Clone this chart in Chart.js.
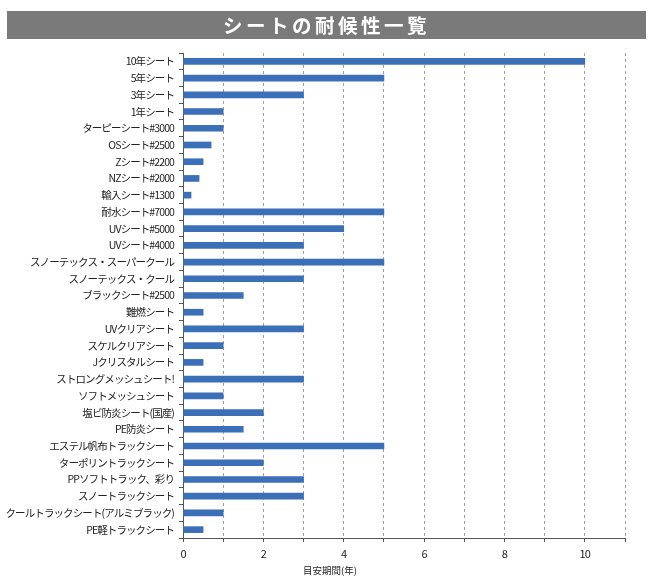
<!DOCTYPE html>
<html>
<head>
<meta charset="utf-8">
<script src="https://cdn.jsdelivr.net/npm/chart.js@4/dist/chart.umd.min.js"></script>
<style>
  html, body { margin: 0; padding: 0; background: #ffffff; }
  #wrap { position: relative; width: 653px; height: 585px; }
  #chart { position: absolute; left: 0; top: 0; }
  #titlebar {
    position: absolute; left: 7px; top: 11px; width: 639px; height: 28px;
    background: #7a7a7a; color: #ffffff;
    font-family: "Noto Sans CJK JP", "Noto Sans", sans-serif; font-weight: bold;
    font-size: 19.5px; line-height: 28px; text-align: center; letter-spacing: 3.5px;
  }
  #xtitle {
    position: absolute; left: 280px; width: 100px; top: 563px; text-align: center;
    font-family: "Noto Sans CJK JP", "Noto Sans", sans-serif; font-size: 9.5px; color: #222;
  }
</style>
</head>
<body>
<div id="wrap">
  <canvas id="chart" width="653" height="585"></canvas>
  <div id="titlebar">シートの耐候性一覧</div>
  <div id="xtitle">目安期間(年)</div>
</div>
<script>
const categories = [
  "10年シート", "5年シート", "3年シート", "1年シート", "ターピーシート#3000",
  "OSシート#2500", "Zシート#2200", "NZシート#2000", "輸入シート#1300", "耐水シート#7000",
  "UVシート#5000", "UVシート#4000", "スノーテックス・スーパークール", "スノーテックス・クール",
  "ブラックシート#2500", "難燃シート", "UVクリアシート", "スケルクリアシート", "Jクリスタルシート",
  "ストロングメッシュシート!", "ソフトメッシュシート", "塩ビ防炎シート(国産)", "PE防炎シート",
  "エステル帆布トラックシート", "ターポリントラックシート", "PPソフトトラック、彩り",
  "スノートラックシート", "クールトラックシート(アルミブラック)", "PE軽トラックシート"
];
const years = [
  10, 5, 3, 1, 1,
  0.7, 0.5, 0.4, 0.2, 5,
  4, 3, 5, 3,
  1.5, 0.5, 3, 1, 0.5,
  3, 1, 2, 1.5,
  5, 2, 3,
  3, 1, 0.5
];
const xMin = 0, xMax = 11, xStep = 1;

const font = "'Noto Sans CJK JP', 'Noto Sans', sans-serif";

new Chart(document.getElementById('chart'), {
  type: 'bar',
  data: {
    labels: categories,
    datasets: [{
      data: years,
      backgroundColor: '#3b6fb8',
      borderWidth: 0,
      barThickness: 6
    }]
  },
  options: {
    indexAxis: 'y',
    responsive: false,
    animation: false,
    layout: { padding: { left: 0, right: 28, top: 53, bottom: 0 } },
    plugins: { legend: { display: false }, tooltip: { enabled: false }, title: { display: false } },
    scales: {
      x: {
        min: xMin, max: xMax,
        ticks: {
          stepSize: xStep,
          color: '#222',
          font: { family: font, size: 11 },
          padding: 5,
          maxRotation: 0,
          autoSkip: false,
          callback: (v) => (v % 2 === 0 ? String(v) : '')
        },
        grid: {
          color: '#a0a0a0',
          lineWidth: 1,
          tickLength: 4,
          tickColor: '#555',
          tickBorderDash: [],
        },
        border: { display: true, color: '#555', width: 1, dash: [3, 3] },
        afterFit: (s) => { s.height = 585 - 538; }
      },
      y: {
        ticks: {
          color: '#222',
          font: { family: font, size: 10.5 },
          padding: 5,
          autoSkip: false
        },
        grid: {
          drawOnChartArea: false,
          tickLength: 4,
          color: '#555',
          offset: true
        },
        border: { display: true, color: '#555', width: 1 },
        afterFit: (s) => { s.width = 183; }
      }
    }
  },
  plugins: [{
    id: 'tightText',
    beforeDraw(chart) { chart.ctx.letterSpacing = '-0.9px'; },
    afterDraw(chart) { chart.ctx.letterSpacing = '0px'; }
  }]
});
</script>
</body>
</html>
